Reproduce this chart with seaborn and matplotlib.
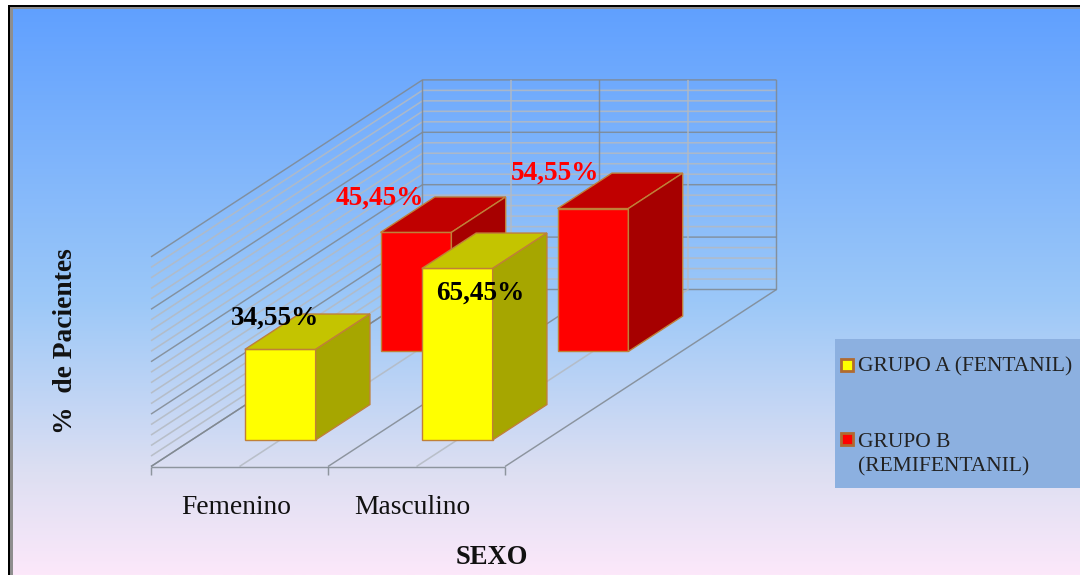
import numpy as np
import matplotlib
matplotlib.use("Agg")
import matplotlib.pyplot as plt
from matplotlib.colors import LinearSegmentedColormap
from matplotlib.patches import Polygon, Rectangle
import seaborn as sns

# Survey results: share of patients per sex and treatment group
categories = ["Femenino", "Masculino"]
grupo_a = [34.55, 65.45]
grupo_b = [45.45, 54.55]
label_a = "GRUPO A (FENTANIL)"
label_b = "GRUPO B\n(REMIFENTANIL)"
axis_title_x = "SEXO"
axis_title_y = "%  de Pacientes"

sns.set_theme(style="white")
plt.rcParams["font.family"] = ["Liberation Serif", "DejaVu Serif"]

W, H = 1080, 575
fig = plt.figure(figsize=(W / 100, H / 100), dpi=100, facecolor="white")

# Oblique box geometry, in pixels
ORIGIN_X, ORIGIN_Y = 151.0, 466.5
PLANE_W, PX_PER_UNIT = 354.0, 2.62
DEPTH_X, DEPTH_Y = 271.5, 177.0
Z_MAX = 80
CAT_PX = PLANE_W / 2
DX_FULL, DZ_FULL = DEPTH_X / CAT_PX, DEPTH_Y / PX_PER_UNIT


def plane_axes(depth, zorder):
    """Transparent axes for the vertical plane lying at a given depth fraction."""
    left = ORIGIN_X + DEPTH_X * depth
    bottom = ORIGIN_Y - DEPTH_Y * depth
    ax = fig.add_axes([left / W, 1 - bottom / H, PLANE_W / W, Z_MAX * PX_PER_UNIT / H])
    ax.patch.set_alpha(0)
    ax.set_zorder(zorder)
    return ax


def finish_plane(ax):
    ax.set_xlim(-0.5, 1.5)
    ax.set_ylim(0, Z_MAX)
    ax.set_axis_off()


# Background gradient and frame
bg = fig.add_axes([0, 0, 1, 1], zorder=0)
bg.set_axis_off()
cmap = LinearSegmentedColormap.from_list(
    "sky", [(0.0, "#60A0FF"), (0.52, "#9CC8F8"), (0.82, "#DDDFF2"), (1.0, "#FCE8FA")]
)
bg.imshow(np.linspace(0, 1, 256)[:, None], cmap=cmap, aspect="auto",
          extent=(10, W, H, 6), zorder=0)
bg.set_xlim(0, W)
bg.set_ylim(H, 0)
bg.add_patch(Rectangle((8, 5), W, 2, color="black", lw=0, zorder=2))
bg.add_patch(Rectangle((8, 5), 2, H, color="black", lw=0, zorder=2))
bg.add_patch(Rectangle((10, 7), W, 1.5, color="#8E8E8E", lw=0, zorder=1))
bg.add_patch(Rectangle((10, 7), 3, H, color="#8E8E8E", lw=0, zorder=1))

# Walls and floor of the chart box
wall = plane_axes(0.0, 1)
MAJOR = dict(color="#808890", lw=1.05, alpha=0.85, clip_on=False, solid_capstyle="butt")
MINOR = dict(color="#B4BAC2", lw=1.15, alpha=0.85, clip_on=False, solid_capstyle="butt")
for z in range(0, Z_MAX + 1, 4):
    style = MAJOR if z % 20 == 0 else MINOR
    wall.plot([-0.5, -0.5 + DX_FULL, 1.5 + DX_FULL],
              [z, z + DZ_FULL, z + DZ_FULL], **style)
for x in (-0.5, 0.0, 0.5, 1.0, 1.5):
    style = MAJOR if x in (-0.5, 0.5, 1.5) else MINOR
    wall.plot([x, x + DX_FULL, x + DX_FULL],
              [0, DZ_FULL, Z_MAX + DZ_FULL], **style)
wall.plot([-0.5, 1.5], [0, 0], **MAJOR)
for x in (-0.5, 0.5, 1.5):
    wall.plot([x, x], [0, -3.1], **MAJOR)
finish_plane(wall)


def draw_row(values, depth, front, top, side, zorder):
    """One row of boxes: seaborn draws the front faces, polygons add the depth."""
    ax = plane_axes(depth, zorder)
    edge = "#C08038"
    sns.barplot(x=categories, y=values, ax=ax, color=front, saturation=1,
                width=0.4, edgecolor=edge, linewidth=1.0)
    for bar in ax.patches:
        bar.set_clip_on(False)
    finish_plane(ax)
    dx, dz = 0.2 * DX_FULL, 0.2 * DZ_FULL
    for i, v in enumerate(values):
        x0, x1 = i - 0.2, i + 0.2
        ax.add_patch(Polygon([(x0, v), (x1, v), (x1 + dx, v + dz), (x0 + dx, v + dz)],
                             facecolor=top, edgecolor=edge, lw=1.0, clip_on=False))
        ax.add_patch(Polygon([(x1, 0), (x1, v), (x1 + dx, v + dz), (x1 + dx, dz)],
                             facecolor=side, edgecolor=edge, lw=1.0, clip_on=False))
    return ax


draw_row(grupo_b, 0.65, "#FF0000", "#C00000", "#A60000", 2)
draw_row(grupo_a, 0.15, "#FFFF00", "#C4C400", "#A6A600", 3)

# Text layer, in pixel coordinates
fg = fig.add_axes([0, 0, 1, 1], zorder=4)
fg.patch.set_alpha(0)
fg.set_xlim(0, W)
fg.set_ylim(H, 0)
fg.set_axis_off()


def pct(v):
    return f"{v:.2f}".replace(".", ",") + "%"


for v, x, y in zip(grupo_a, (275, 480.5), (318, 293)):
    fg.text(x, y, pct(v), color="black", fontsize=19.5, fontweight="bold",
            ha="center", va="center")
for v, x, y in zip(grupo_b, (380, 554.5), (198, 173)):
    fg.text(x, y, pct(v), color="#FF0000", fontsize=19.5, fontweight="bold",
            ha="center", va="center")

for name, x in zip(categories, (236, 412.5)):
    fg.text(x, 508, name, color="#111111", fontsize=19.8, ha="center", va="center")
fg.text(491.5, 558, axis_title_x, color="#111111", fontsize=19.2,
        fontweight="bold", ha="center", va="center")
fg.text(65, 341, axis_title_y, color="#111111", fontsize=19.8, fontweight="bold",
        rotation=90, ha="center", va="center")

# Legend panel
fg.add_patch(Rectangle((835, 339), 245, 149, facecolor="#8CB0E0", lw=0))
for y, colour in ((358, "#FFFF00"), (432, "#FF0000")):
    fg.add_patch(Rectangle((841, y + 1), 12, 12, facecolor=colour,
                           edgecolor="#B06A30", lw=2.0))
fg.text(858, 367, label_a, color="#222222", fontsize=15.5, ha="left", va="center")
fg.text(858, 455, label_b, color="#222222", fontsize=15.5, ha="left", va="center",
        linespacing=1.36)

fig.savefig("out.png", dpi=100, facecolor="white")
